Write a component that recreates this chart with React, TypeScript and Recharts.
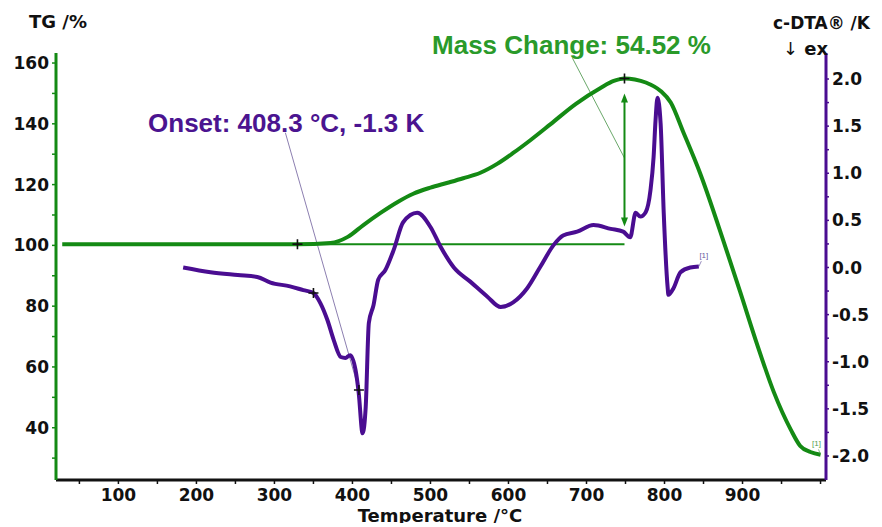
import { Line, LineChart, ReferenceDot, ReferenceLine, XAxis, YAxis } from 'recharts'

// TG curve (mass %, left axis)
const tgTemp = [28, 329.5, 372, 394, 414, 436, 458, 478, 500, 522, 542, 564, 586, 606, 628, 654, 686, 718, 735, 748.7, 762, 776, 795, 808, 824, 846, 876, 897, 919, 940, 962, 974, 987, 1000]
const tgMass = [100.4, 100.4, 100.8, 102.8, 106.7, 110.7, 114.3, 117.0, 119.0, 120.6, 122.1, 123.9, 126.9, 130.4, 134.6, 139.9, 146.5, 151.8, 154.1, 154.92, 154.6, 153.6, 150.8, 147.0, 137.3, 123.5, 101.1, 84.7, 67.2, 51.8, 39.3, 34.0, 32.0, 31.1]

// c-DTA curve (K, right axis)
const dtaTemp = [183, 218, 253, 278, 295, 320, 337, 350, 359, 368, 376, 385, 391, 397, 404, 408, 413, 417, 421, 427, 433, 442, 453, 465, 483, 500, 513, 530, 551, 573, 590, 606, 624, 641, 658, 670, 688, 709, 731, 747, 756, 763, 769, 776, 782, 786, 788.5, 791, 795, 799, 804, 805, 811.5, 820.5, 833, 844]
const dtaSignal = [0.0, -0.05, -0.08, -0.1, -0.16, -0.2, -0.24, -0.27, -0.38, -0.56, -0.77, -0.95, -0.96, -0.93, -1.09, -1.33, -1.76, -1.48, -0.59, -0.4, -0.13, -0.03, 0.19, 0.48, 0.58, 0.43, 0.22, 0.0, -0.15, -0.31, -0.42, -0.37, -0.22, 0.01, 0.24, 0.34, 0.38, 0.45, 0.41, 0.38, 0.32, 0.58, 0.54, 0.59, 0.82, 1.17, 1.56, 1.8, 1.53, 0.58, -0.21, -0.29, -0.22, -0.05, 0.0, 0.01]

const tempTicks = [50, 100, 150, 200, 250, 300, 350, 400, 450, 500, 550, 600, 650, 700, 750, 800, 850, 900, 950, 1000]
const tgTicks = [30, 40, 50, 60, 70, 80, 90, 100, 110, 120, 130, 140, 150, 160]
const dtaTicks = [-2, -1.75, -1.5, -1.25, -1, -0.75, -0.5, -0.25, 0, 0.25, 0.5, 0.75, 1, 1.25, 1.5, 1.75, 2]

// evaluated results
const onsetTemp = 408.3
const onsetSignal = -1.3
const massBase = 100.4
const massChange = 54.52
const massStart = 329.5
const massPeakTemp = 748.7

const tgData = tgTemp.map((t, i) => ({ t, v: tgMass[i] }))
const dtaData = dtaTemp.map((t, i) => ({ t, v: dtaSignal[i] }))

const GREEN = '#148a14'
const PURPLE = '#4a0d91'
const tickFont = { fontFamily: 'DejaVu Sans', fontWeight: 700, fontSize: 17, fill: '#111' }
const noteFont = { fontFamily: 'Liberation Sans, Arial', fontWeight: 700, fontSize: 26 }

const TgTick = ({ x, y, payload }: any) =>
  payload.value % 20 === 0 && payload.value >= 40 ? (
    <text x={x} y={y} dy="0.36em" textAnchor="end" {...tickFont}>{payload.value}</text>
  ) : <g />

const DtaTick = ({ x, y, payload }: any) =>
  Math.abs(payload.value * 2 - Math.round(payload.value * 2)) < 1e-6 ? (
    <text x={x} y={y} dy="0.36em" textAnchor="start" {...tickFont}>{payload.value.toFixed(1)}</text>
  ) : <g />

const TempTick = ({ x, y, payload }: any) =>
  payload.value % 100 === 0 && payload.value <= 900 ? (
    <text x={x} y={y} dy="0.76em" textAnchor="middle" {...tickFont}>{payload.value}</text>
  ) : <g />

const Cross = ({ cx, cy }: any) => (
  <path d={`M${cx - 5},${cy}H${cx + 5}M${cx},${cy - 5}V${cy + 5}`} stroke="#111" strokeWidth={1.6} />
)

const DoubleArrow = ({ x1, y1, x2, y2 }: any) => {
  const top = Math.min(y1, y2)
  const bottom = Math.max(y1, y2)
  return (
    <g>
      <line x1={x1} y1={top + 6} x2={x2} y2={bottom - 6} stroke={GREEN} strokeWidth={2} />
      <path d={`M${x1},${top}L${x1 - 3.5},${top + 9}L${x1 + 3.5},${top + 9}Z`} fill={GREEN} />
      <path d={`M${x1},${bottom}L${x1 - 3.5},${bottom - 9}L${x1 + 3.5},${bottom - 9}Z`} fill={GREEN} />
    </g>
  )
}

const note = (text: string, color: string) => ({ cx, cy }: any) => (
  <text x={cx} y={cy} fill={color} {...noteFont}>{text}</text>
)

const tag = (color: string, dx: number, dy: number) => ({ cx, cy }: any) => (
  <g>
    <line x1={cx} y1={cy} x2={cx + dx * 0.5} y2={cy + dy * 0.6} stroke={color} strokeWidth={0.7} />
    <text x={cx + dx} y={cy + dy} fontSize={8} fontFamily="Liberation Sans, Arial" fill={color} textAnchor="middle">[1]</text>
  </g>
)

export default function App() {
  return (
    <div style={{ position: 'relative', width: 866, height: 515 }}>
      <LineChart width={866} height={515} margin={{ top: 45, right: 3, bottom: 13, left: 4 }}>
        <XAxis
          dataKey="t"
          type="number"
          domain={[20, 1007]}
          ticks={tempTicks}
          interval={0}
          allowDataOverflow
          height={30}
          axisLine={{ stroke: '#111', strokeWidth: 3 }}
          tickLine={{ stroke: '#111', strokeWidth: 1.5 }}
          tickSize={4}
          tickMargin={4}
          tick={<TempTick />}
        />
        <YAxis
          yAxisId="tg"
          type="number"
          domain={[22.8, 163.3]}
          ticks={tgTicks}
          interval={0}
          allowDataOverflow
          width={44}
          axisLine={{ stroke: GREEN, strokeWidth: 3 }}
          tickLine={{ stroke: GREEN, strokeWidth: 1.5 }}
          tickSize={4}
          tickMargin={3}
          tick={<TgTick />}
        />
        <YAxis
          yAxisId="dta"
          orientation="right"
          type="number"
          domain={[-2.255, 2.276]}
          ticks={dtaTicks}
          interval={0}
          allowDataOverflow
          width={45}
          axisLine={{ stroke: PURPLE, strokeWidth: 3 }}
          tickLine={{ stroke: PURPLE, strokeWidth: 1.5 }}
          tickSize={3}
          tickMargin={3}
          tick={<DtaTick />}
        />

        <ReferenceLine
          yAxisId="tg"
          segment={[{ x: massStart, y: massBase }, { x: massPeakTemp, y: massBase }]}
          stroke={GREEN}
          strokeWidth={2}
        />
        <ReferenceLine
          yAxisId="tg"
          segment={[{ x: 682, y: 161.6 }, { x: massPeakTemp, y: 128.75 }]}
          stroke="#6aa86a"
          strokeWidth={1}
        />
        <ReferenceLine
          yAxisId="tg"
          segment={[{ x: massPeakTemp, y: 106.2 }, { x: massPeakTemp, y: 150 }]}
          shape={<DoubleArrow />}
        />
        <ReferenceLine
          yAxisId="dta"
          segment={[{ x: 314, y: 1.43 }, { x: onsetTemp, y: onsetSignal }]}
          stroke="#8c7fb0"
          strokeWidth={1}
        />

        <Line yAxisId="tg" data={tgData} dataKey="v" type="monotone" stroke={GREEN} strokeWidth={4} dot={false} isAnimationActive={false} />
        <Line yAxisId="dta" data={dtaData} dataKey="v" type="monotone" stroke={PURPLE} strokeWidth={4} dot={false} isAnimationActive={false} />

        <ReferenceDot yAxisId="tg" x={massStart} y={massBase} ifOverflow="visible" shape={<Cross />} />
        <ReferenceDot yAxisId="tg" x={massPeakTemp} y={massBase + massChange} ifOverflow="visible" shape={<Cross />} />
        <ReferenceDot yAxisId="dta" x={350} y={-0.27} ifOverflow="visible" shape={<Cross />} />
        <ReferenceDot yAxisId="dta" x={onsetTemp} y={onsetSignal} ifOverflow="visible" shape={<Cross />} />

        <ReferenceDot yAxisId="dta" x={844} y={0.01} ifOverflow="visible" shape={tag('#6a5aa0', 5, -9)} />
        <ReferenceDot yAxisId="tg" x={1000} y={31.1} ifOverflow="visible" shape={tag('#4f9f4f', -4, -9)} />

        <ReferenceDot
          yAxisId="dta"
          x={138}
          y={1.44}
          ifOverflow="visible"
          shape={note(`Onset: ${onsetTemp} °C, ${onsetSignal} K`, '#4b1490')}
        />
        <ReferenceDot
          yAxisId="tg"
          x={502}
          y={162.96}
          ifOverflow="visible"
          shape={note(`Mass Change: ${massChange} %`, '#2a9a2a')}
        />
      </LineChart>

      <svg
        width={874}
        height={519}
        style={{ position: 'absolute', left: 0, top: 0, pointerEvents: 'none', overflow: 'visible' }}
      >
        <g fontFamily="DejaVu Sans" fontWeight={700} fontSize={18} fill="#111">
          <text x={21} y={20}>TG /%</text>
          <text x={765} y={21} fontSize={17}>c-DTA® /K</text>
          <text x={775} y={47}>
            <tspan fontWeight={400}>↓</tspan> ex
          </text>
          <text x={432} y={514} textAnchor="middle">Temperature /°C</text>
        </g>
      </svg>
    </div>
  )
}
